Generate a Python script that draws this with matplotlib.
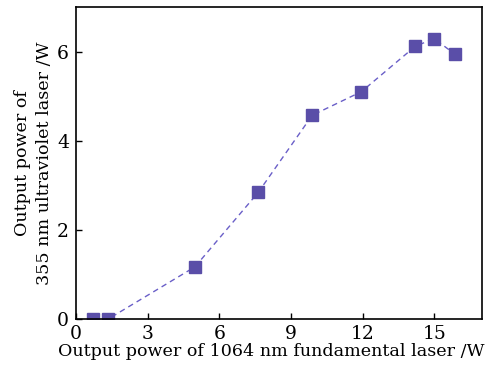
import matplotlib
matplotlib.use('Agg')
import matplotlib.pyplot as plt

# fundamental power (W) vs 355 nm UV output (W)
p_fund = [0.70, 1.35, 4.98, 7.63, 9.89, 11.95, 14.21, 15.0, 15.87]
p_uv = [0.0, 0.0, 1.17, 2.84, 4.57, 5.10, 6.12, 6.29, 5.94]
xticks = [0, 3, 6, 9, 12, 15]
yticks = [0, 2, 4, 6]

plt.rcParams['font.family'] = ['DejaVu Serif']
fig = plt.figure(figsize=(4.9, 3.73), dpi=100)
ax = fig.add_axes([76/490, 1-319/373, 406/490, 312/373])
ax.plot(p_fund, p_uv, '--', color='#6a5fc8', lw=1.0, dashes=(4, 3),
        marker='s', ms=8, mfc='#5a4ea8', mec='#5a4ea8')
ax.set_xlim(0, 17)
ax.set_ylim(0, 7)
ax.set_xticks(xticks)
ax.set_yticks(yticks)
ax.tick_params(direction='in', length=4, width=1, labelsize=13.5)
ax.tick_params(axis='x', pad=4)
ax.tick_params(axis='y', pad=5)
for s in ax.spines.values():
    s.set_linewidth(1.2)
ax.set_xlabel('Output power of 1064 nm fundamental laser /W', fontsize=12.6, labelpad=0)
ax.xaxis.label.set_x(0.48)
ax.set_ylabel('Output power of\n355 nm ultraviolet laser /W', fontsize=12.6, labelpad=3, linespacing=1.35)
fig.savefig('out.png', dpi=100)
